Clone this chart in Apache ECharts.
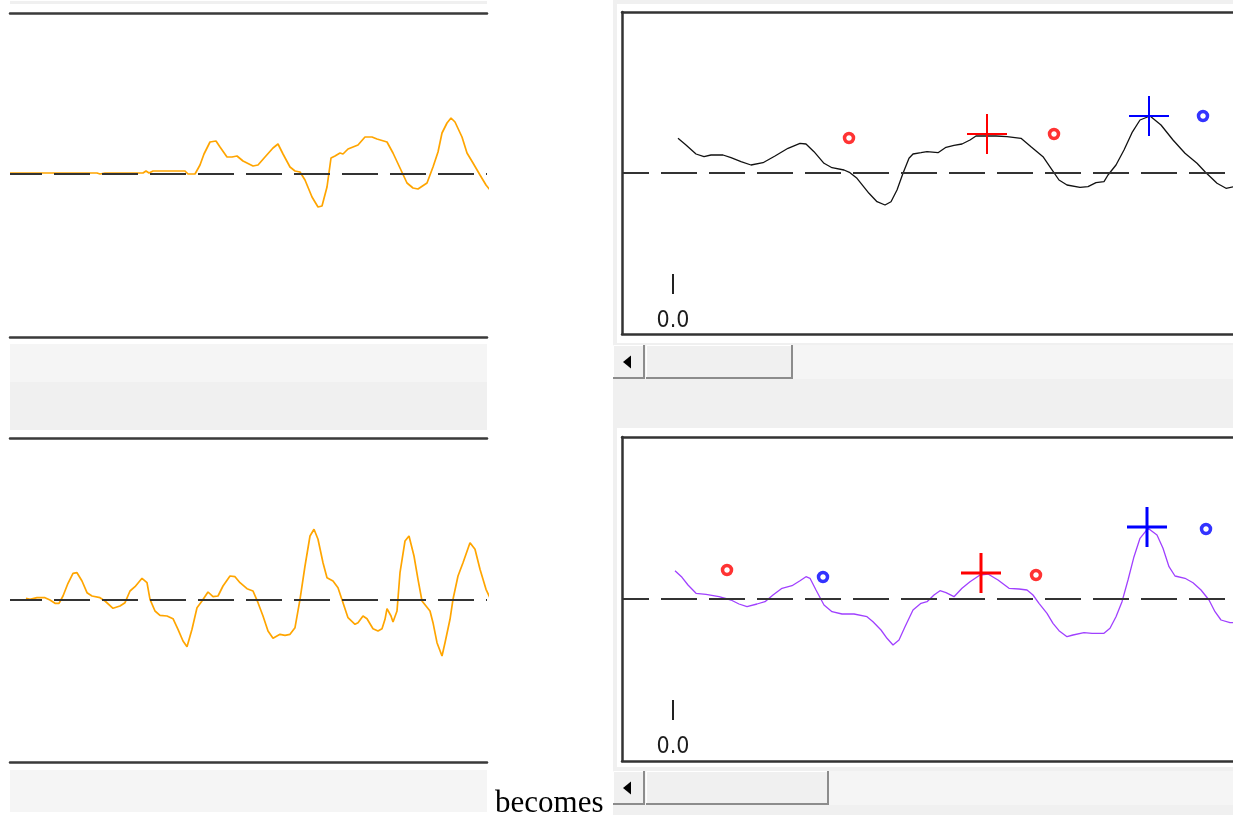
<!DOCTYPE html>
<html><head><meta charset="utf-8">
<script src="https://cdn.jsdelivr.net/npm/echarts@6/dist/echarts.min.js"></script>
<style>html,body{margin:0;padding:0;background:#fff;overflow:hidden}#c{width:1233px;height:815px}</style>
</head><body><div id="c"></div>
<script>
// ---- data (x = time units, y = signal value) ----
const leftTopSeries = [[0,1],[87,1],[90,0],[95,1],[133,1],[136,3],[139,1],[143,3],[175,3],[178,0],[185,0],[190,9],[194,20],[200,32],[206,33],[210,27],[217,17],[222,17],[227,18],[233,13],[243,8],[248,9],[255,17],[263,26],[268,30],[273,20],[280,7],[285,3],[290,2],[295,-6],[302,-23],[308,-33],[312,-32],[317,-13],[321,16],[325,18],[330,21],[333,20],[338,25],[343,27],[348,29],[355,37],[362,37],[367,35],[377,32],[383,21],[390,6],[397,-9],[403,-14],[408,-15],[417,-9],[423,7],[428,22],[432,41],[437,51],[441,56],[445,52],[452,37],[457,21],[463,11],[470,-1],[476,-11],[480,-16]];

const leftBottomSeries = [[16,1.7],[20,0.7],[27,2.3],[35,2.3],[40,0],[45,-3.3],[49,-3.3],[53,4],[58,16.7],[63,26.7],[67,27.3],[72,19],[77,7.3],[82,4],[90,2.3],[95,-1],[103,-8.3],[110,-6],[115,-2.7],[120,9],[125,13.3],[132,21.7],[137,17.3],[140,0.7],[145,-11],[150,-15.3],[157,-16],[163,-18.7],[168,-29.3],[173,-41],[177,-46.7],[182,-29.3],[187,-7.7],[192,-1],[198,8],[203,3.3],[208,4],[213,14],[220,24],[225,23.3],[230,17.3],[237,11.3],[243,9],[248,-2.7],[253,-16],[258,-31],[263,-38.3],[270,-34.3],[275,-35.3],[280,-34.3],[285,-27.7],[290,0.7],[295,34],[300,64],[304,70.7],[308,60.7],[313,37.3],[317,22.3],[323,19],[328,12.3],[333,-2.7],[338,-17.7],[345,-24.3],[348,-22.7],[353,-16],[357,-18.7],[363,-28.7],[368,-31],[372,-28.7],[375,-19.3],[377,-8.7],[381,-16],[383,-22],[387,-11],[390,27.3],[395,59],[399,64],[404,44],[408,20.7],[412,-1],[420,-11],[423,-22.7],[427,-42.7],[432,-56],[435,-42.7],[440,-19.3],[443,0.7],[448,24],[453,37.3],[460,57.3],[465,50.7],[470,30.7],[476,10.7],[480,2]];

const rightTopSeries = [[5,34.7],[13,28],[23,19],[31,16.3],[38,18],[50,18],[58,15.3],[68,11.3],[78,8],[90,10.3],[102,17],[115,24.7],[127,29.7],[133,29],[141,21.3],[151,9.7],[159,5.3],[171,3],[177,0.3],[184,-5.3],[196,-20.3],[204,-28.7],[212,-32],[218,-28.7],[224,-17],[230,-0.3],[236,14.7],[240,19],[248,20.3],[254,21.3],[265,20.3],[273,25.7],[281,27.7],[289,29],[297,33],[303,37],[313,37],[323,37],[334,36.3],[348,34.7],[358,26.3],[370,16.3],[378,4.7],[386,-7],[394,-12],[407,-14.3],[415,-13.7],[423,-9.7],[431,-8.7],[435,-2],[443,8],[451,23],[459,40.3],[467,53],[477,57],[488,48],[500,33],[512,19.7],[524,9.7],[532,1.3],[544,-10.3],[553,-15.3],[561,-13.7],[570,-12]];

const rightBottomSeries = [[2,28.3],[9,21.7],[15,14],[23,5.7],[33,4.7],[46,2.3],[58,-1],[66,-5],[74,-7.7],[84,-5],[92,-2.7],[100,4],[109,10.7],[119,13.3],[127,18.3],[133,22.3],[137,20.7],[143,9],[151,-6],[159,-12.7],[169,-15],[181,-15],[194,-17.7],[200,-22.7],[208,-31],[214,-39.3],[220,-46],[226,-41],[232,-27.7],[240,-11],[248,-4.3],[254,-2.7],[261,4],[267,8.3],[273,6.3],[281,2.3],[289,10.7],[297,17.3],[307,24],[315,25],[325,19],[336,10.7],[346,10],[354,9],[360,4],[366,-4.3],[374,-14.3],[380,-24.3],[386,-31.7],[394,-37.7],[400,-36],[411,-33.7],[419,-34.3],[431,-34.3],[437,-29.3],[443,-17.7],[449,-2.7],[455,19],[461,42.3],[467,60.7],[475,70.7],[484,64],[490,50.7],[496,32.3],[502,23],[512,20.7],[520,16.3],[528,9],[536,-1],[542,-12.7],[548,-21],[557,-23.7],[561,-23.7],[570,-24]];

const topRedCircles = [[176,35],[381,39]];
const topBlueCircles = [[530,57]];
const topRedCrosses = [[314,39]];
const topBlueCrosses = [[476,57]];
const bottomRedCircles = [[54,29],[363,24]];
const bottomBlueCircles = [[150,22],[533,70]];
const bottomRedCrosses = [[308,26]];
const bottomBlueCrosses = [[474,72]];
const tickValues = [0];
const joinWord = 'becomes';

// ---- chart ----
const chart = echarts.init(document.getElementById('c'), null, {renderer: 'canvas'});

const edge = {color: '#3a3a3a', width: 2.5};
const frame = {color: '#333333', width: 2.5};
function edgeAxis(grid, pos, min, max, style) {
  return {type: 'value', gridIndex: grid, position: pos, min: min, max: max,
    axisLine: {show: true, onZero: false, lineStyle: style}, axisTick: {show: false},
    axisLabel: {show: false}, splitLine: {show: false}};
}
function timeAxis(grid, offset) {
  return {type: 'value', gridIndex: grid, position: 'bottom', min: -51, max: 560, offset: offset,
    axisLine: {show: false, onZero: false},
    axisTick: {show: true, inside: true, length: 20, customValues: tickValues,
      lineStyle: {color: '#222', width: 2}},
    axisLabel: {show: true, customValues: tickValues, margin: 16,
      formatter: v => v.toFixed(1), fontSize: 23, color: '#1c1c1c',
      fontFamily: '"Liberation Sans Narrow", "Arial Narrow", "DejaVu Sans Condensed", sans-serif'},
    splitLine: {show: false}};
}
function valAxis(grid, min, max, framed) {
  return {type: 'value', gridIndex: grid, min: min, max: max, show: !!framed, position: 'left',
    axisLine: {show: !!framed, onZero: false, lineStyle: frame},
    axisTick: {show: false}, axisLabel: {show: false}, splitLine: {show: false}};
}
function zeroLine(offset) {
  return {silent: true, symbol: ['none', 'none'], label: {show: false},
    lineStyle: {color: '#333', width: 2, type: [36, 12], dashOffset: offset},
    emphasis: {disabled: true}, data: [{yAxis: 0}]};
}
function lineSeries(data, xi, yi, color, w, dashOff) {
  return {type: 'line', data: data, xAxisIndex: xi, yAxisIndex: yi, symbol: 'none',
    smooth: false, clip: true, lineStyle: {color: color, width: w}, itemStyle: {color: color},
    markLine: zeroLine(dashOff), z: 3};
}
function circles(data, xi, yi, color) {
  return {type: 'scatter', data: data, xAxisIndex: xi, yAxisIndex: yi, symbol: 'circle',
    symbolSize: 9, itemStyle: {color: '#fff', borderColor: color, borderWidth: 3.5}, z: 5};
}
function crosses(data, xi, yi, color, w) {
  return {type: 'custom', data: data, xAxisIndex: xi, yAxisIndex: yi, z: 6,
    renderItem: (params, api) => {
      const p = api.coord([api.value(0), api.value(1)]);
      const st = {stroke: color, lineWidth: w};
      return {type: 'group', children: [
        {type: 'line', shape: {x1: p[0] - 20, y1: p[1], x2: p[0] + 20, y2: p[1]}, style: st},
        {type: 'line', shape: {x1: p[0], y1: p[1] - 20, x2: p[0], y2: p[1] + 20}, style: st}
      ]};
    }};
}
function scrollbar(y, h, thumbEnd) {
  const els = [];
  els.push({type: 'rect', z: -5, shape: {x: 613, y: y, width: 620, height: h}, style: {fill: '#f5f5f5'}});
  els.push({type: 'rect', z: -4, shape: {x: 613, y: y, width: 32, height: h}, style: {fill: '#f0f0f0'}});
  els.push({type: 'polyline', z: -3, shape: {points: [[613.5, y + h - 1], [613.5, y + 0.5], [644, y + 0.5]]}, style: {stroke: '#ffffff', lineWidth: 1, fill: null}});
  els.push({type: 'polyline', z: -3, shape: {points: [[613, y + h - 1], [644, y + h - 1], [644, y]]}, style: {stroke: '#8c8c8c', lineWidth: 2, fill: null}});
  els.push({type: 'polygon', z: -3, shape: {points: [[623, y + h / 2], [631, y + h / 2 - 6.5], [631, y + h / 2 + 6.5]]}, style: {fill: '#000'}});
  els.push({type: 'rect', z: -4, shape: {x: 646, y: y, width: thumbEnd - 646, height: h}, style: {fill: '#f0f0f0'}});
  els.push({type: 'polyline', z: -3, shape: {points: [[646.5, y + h - 1], [646.5, y + 0.5], [thumbEnd - 1, y + 0.5]]}, style: {stroke: '#ffffff', lineWidth: 1, fill: null}});
  els.push({type: 'polyline', z: -3, shape: {points: [[646, y + h - 1], [thumbEnd - 1, y + h - 1], [thumbEnd - 1, y]]}, style: {stroke: '#8c8c8c', lineWidth: 2, fill: null}});
  return els;
}

const graphics = [
  {type: 'rect', z: -10, shape: {x: 10, y: 1, width: 477, height: 3}, style: {fill: '#f0f0f0'}},
  {type: 'rect', z: -10, shape: {x: 10, y: 344, width: 477, height: 38}, style: {fill: '#f5f5f5'}},
  {type: 'rect', z: -10, shape: {x: 10, y: 382, width: 477, height: 48}, style: {fill: '#f0f0f0'}},
  {type: 'rect', z: -10, shape: {x: 10, y: 770, width: 477, height: 42}, style: {fill: '#f5f5f5'}},
  {type: 'rect', z: -10, shape: {x: 613, y: 0, width: 620, height: 428}, style: {fill: '#f0f0f0'}},
  {type: 'rect', z: -9, shape: {x: 617, y: 4, width: 616, height: 339}, style: {fill: '#ffffff'}},
  {type: 'rect', z: -10, shape: {x: 613, y: 428, width: 620, height: 387}, style: {fill: '#f0f0f0'}},
  {type: 'rect', z: -9, shape: {x: 617, y: 428, width: 616, height: 339}, style: {fill: '#ffffff'}},
  ...scrollbar(345, 34, 793),
  ...scrollbar(771, 34, 829),
  {type: 'text', z: 10, style: {text: joinWord, x: 495, y: 819, verticalAlign: 'bottom',
    font: '31px "Liberation Serif", "Times New Roman", serif', fill: '#000'}}
];

const option = {
  animation: false,
  backgroundColor: '#ffffff',
  grid: [
    {left: 10, top: 13, width: 477, height: 324, show: false},
    {left: 10, top: 438, width: 477, height: 324, show: false},
    {left: 622, top: 12, right: 0, height: 322, show: false},
    {left: 622, top: 437, right: 0, height: 324, show: false}
  ],
  xAxis: [
    edgeAxis(0, 'bottom', 0, 477, edge), edgeAxis(0, 'top', 0, 477, edge),
    edgeAxis(1, 'bottom', 0, 477, edge), edgeAxis(1, 'top', 0, 477, edge),
    timeAxis(2, -40), timeAxis(3, -41),
    edgeAxis(2, 'bottom', -51, 560, frame), edgeAxis(2, 'top', -51, 560, frame),
    edgeAxis(3, 'bottom', -51, 560, frame), edgeAxis(3, 'top', -51, 560, frame)
  ],
  yAxis: [
    valAxis(0, -163, 161, false), valAxis(1, -162, 162, false),
    valAxis(2, -161, 161, true), valAxis(3, -162, 162, true)
  ],
  graphic: {elements: graphics},
  series: [
    lineSeries(leftTopSeries, 0, 0, '#ffa500', 1.7, 4),
    lineSeries(leftBottomSeries, 2, 1, '#ffa500', 1.7, 4),
    lineSeries(rightTopSeries, 4, 2, '#111111', 1.3, 9),
    lineSeries(rightBottomSeries, 5, 3, '#a040ff', 1.3, 9),
    circles(topRedCircles, 4, 2, '#ff0000'),
    circles(topBlueCircles, 4, 2, '#0000ff'),
    crosses(topRedCrosses, 4, 2, '#ff0000', 2),
    crosses(topBlueCrosses, 4, 2, '#0000ff', 2),
    circles(bottomRedCircles, 5, 3, '#ff0000'),
    circles(bottomBlueCircles, 5, 3, '#0000ff'),
    crosses(bottomRedCrosses, 5, 3, '#ff0000', 3),
    crosses(bottomBlueCrosses, 5, 3, '#0000ff', 3)
  ]
};
chart.setOption(option);
</script>
</body></html>
